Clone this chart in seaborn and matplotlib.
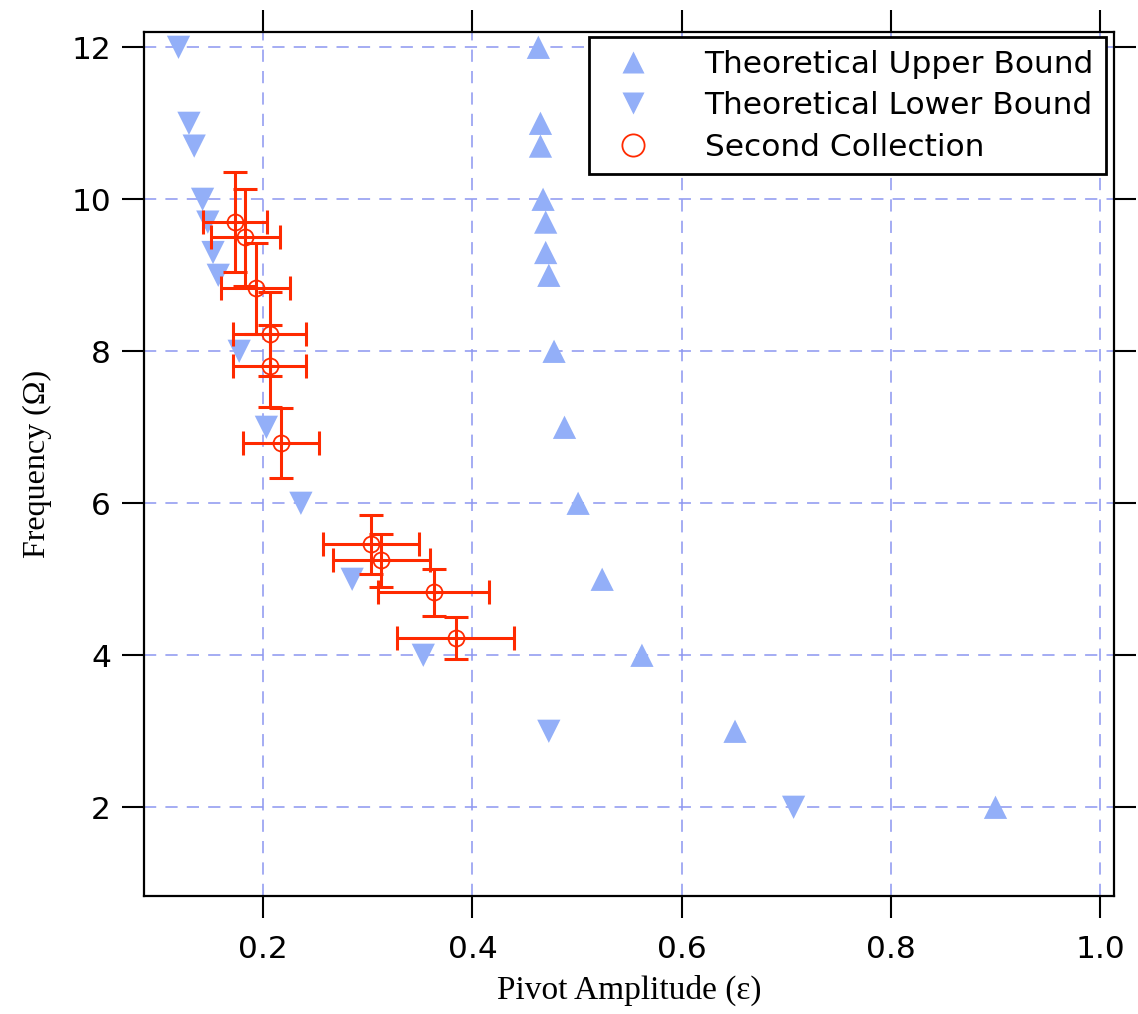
import seaborn as sns
import pandas as pd
import matplotlib.pyplot as plt
from matplotlib.lines import Line2D

sns.set_theme(style="ticks")
plt.rcParams['font.family'] = ['DejaVu Sans']
plt.rcParams['text.color'] = 'black'
plt.rcParams['xtick.color'] = 'black'
plt.rcParams['ytick.color'] = 'black'
plt.rcParams['axes.labelcolor'] = 'black'

# Theoretical bounds (frequency vs pivot amplitude)
freq_bound = [12, 11, 10.7, 10, 9.7, 9.3, 9, 8, 7, 6, 5, 4, 3, 2]
amp_upper = [0.463, 0.465, 0.465, 0.4675, 0.470, 0.470, 0.473, 0.478,
             0.488, 0.501, 0.524, 0.562, 0.651, 0.900]
amp_lower = [0.119, 0.129, 0.134, 0.142, 0.147, 0.152, 0.157, 0.177,
             0.203, 0.236, 0.285, 0.353, 0.473, 0.707]

# Second collection measurements
amp_meas = [0.173, 0.183, 0.193, 0.206, 0.206, 0.217, 0.303, 0.313, 0.363, 0.384]
freq_meas = [9.70, 9.50, 8.83, 8.23, 7.81, 6.79, 5.46, 5.25, 4.83, 4.23]
amp_err = [0.031, 0.033, 0.033, 0.035, 0.035, 0.036, 0.046, 0.046, 0.053, 0.056]
freq_err = [0.66, 0.64, 0.60, 0.55, 0.54, 0.46, 0.39, 0.35, 0.31, 0.28]

blue = '#93AFF8'
red = '#FF2A00'

upper = pd.DataFrame({'amp': amp_upper, 'freq': freq_bound})
lower = pd.DataFrame({'amp': amp_lower, 'freq': freq_bound})
meas = pd.DataFrame({'amp': amp_meas, 'freq': freq_meas})

fig = plt.figure(figsize=(11.38, 10.14), dpi=100)
ax = fig.add_axes([0.1268, 0.1164, 0.8525, 0.8517])

sns.scatterplot(data=upper, x='amp', y='freq', marker='^', s=280,
                color=blue, edgecolor='none', ax=ax, zorder=3)
sns.scatterplot(data=lower, x='amp', y='freq', marker='v', s=280,
                color=blue, edgecolor='none', ax=ax, zorder=3)
ax.errorbar(meas['amp'], meas['freq'], xerr=amp_err, yerr=freq_err,
            fmt='none', ecolor=red, elinewidth=2.2, capsize=8.5,
            capthick=2.2, zorder=4)
ax.plot(meas['amp'], meas['freq'], 'o', ms=11.5, mfc='none', mec=red,
        mew=1.3, zorder=5)

ax.set_xlim(0.0863, 1.0137)
ax.set_ylim(0.833, 12.197)
ax.set_xticks([0.2, 0.4, 0.6, 0.8, 1.0])
ax.set_xticklabels(['0.2', '0.4', '0.6', '0.8', '1.0'])
ax.set_yticks([2, 4, 6, 8, 10, 12])

ax.set_axisbelow(True)
ax.grid(True, color='#8C96F0', linestyle=(0, (8, 6)), linewidth=1.1)

for s in ax.spines.values():
    s.set_linewidth(1.6)
    s.set_color('black')
ax.tick_params(direction='out', length=16, width=1.5, labelsize=22.5,
               top=True, right=True, color='black', labelcolor='black')
ax.tick_params(axis='x', pad=12)
ax.tick_params(axis='y', pad=8)

ax.set_xlabel('Pivot Amplitude (ε)', family='Liberation Serif', fontsize=24,
              labelpad=8)
ax.set_ylabel('Frequency (Ω)', family='Liberation Serif', fontsize=23,
              labelpad=14)

handles = [
    Line2D([], [], marker='^', ls='none', ms=16.5, color=blue, mec='none'),
    Line2D([], [], marker='v', ls='none', ms=16.5, color=blue, mec='none'),
    Line2D([], [], marker='o', ls='none', ms=16, mfc='none', mec=red, mew=1.3),
]
leg = ax.legend(handles, ['Theoretical Upper Bound', 'Theoretical Lower Bound',
                          'Second Collection'],
                loc='upper right', bbox_to_anchor=(0.9918, 0.9946),
                fontsize=22.5, frameon=True, fancybox=False, framealpha=1,
                edgecolor='black', borderpad=0.4, labelspacing=0.4,
                handlelength=2.0, handletextpad=1.3, borderaxespad=0.0)
leg.get_frame().set_linewidth(2.0)

fig.savefig('out.png', dpi=100)
